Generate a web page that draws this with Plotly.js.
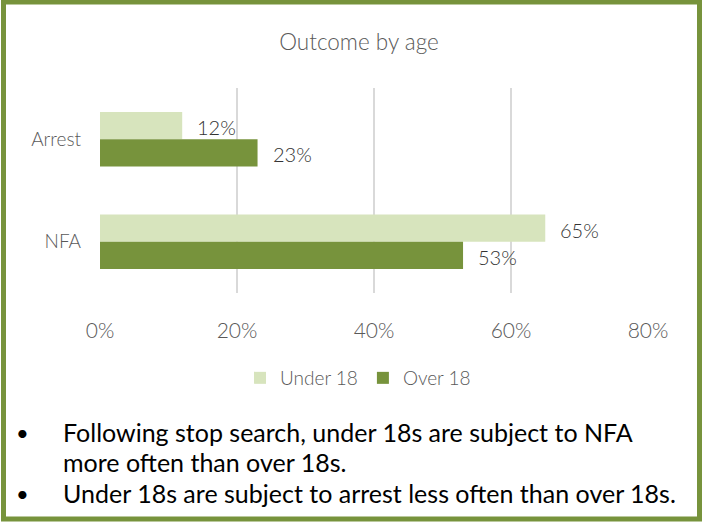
<!DOCTYPE html>
<html>
<head>
<meta charset="utf-8">
<script src="https://cdn.plot.ly/plotly-3.0.1.min.js"></script>
<style>
html,body{margin:0;padding:0;background:#fff;}
#chart{width:702px;height:526px;}
</style>
</head>
<body>
<div id="chart"></div>
<script>
// ---- data ----
const categories = ['Arrest', 'NFA'];
const seriesNames = ['Under 18', 'Over 18'];
const under18 = [0.12, 0.65];
const over18 = [0.23, 0.53];
const xTickVals = [0, 0.2, 0.4, 0.6, 0.8];
const xTickText = ['0%', '20%', '40%', '60%', '80%'];
const chartTitle = 'Outcome by age';
const bulletLines = [
  ['Following stop search, under 18s are subject to NFA', 'more often than over 18s.'],
  ['Under 18s are subject to arrest less often than over 18s.']
];

// ---- layout geometry (pixels) ----
const W = 702, H = 526;
const L = 100, R = 648, T = 88, B = 293;
const px2x = p => (p - L) / (R - L);
const px2y = p => (B - p) / (B - T);

const FONT = 'Lato, "Open Sans", sans-serif';
const GREY = '#595959';
const colors = ['#D7E4BD', '#77933C'];
const values = [under18, over18];

const traces = seriesNames.map((name, i) => ({
  type: 'bar',
  orientation: 'h',
  name: name,
  y: categories,
  x: values[i],
  marker: {color: colors[i]},
  hoverinfo: 'x+name'
}));

const annotations = [];
// value labels
const yShifts = [12, -15];
values.forEach((vals, i) => {
  vals.forEach((v, j) => {
    annotations.push({
      x: v, y: categories[j], xref: 'x', yref: 'y',
      text: Math.round(v * 100) + '%',
      showarrow: false, xanchor: 'left', yanchor: 'middle',
      xshift: 13, yshift: yShifts[i],
      font: {family: FONT, size: 20, color: '#333333', weight: 300}
    });
  });
});
// bullet text
const lineY = [432, 462, 493];
let li = 0;
bulletLines.forEach(lines => {
  lines.forEach((ln, k) => {
    if (k === 0) {
      annotations.push({
        x: px2x(22), y: px2y(lineY[li]), xref: 'paper', yref: 'paper',
        text: '•', showarrow: false, xanchor: 'center', yanchor: 'middle',
        font: {family: FONT, size: 22, color: '#000'}
      });
    }
    annotations.push({
      x: px2x(61), y: px2y(lineY[li]), xref: 'paper', yref: 'paper',
      text: ln, showarrow: false, xanchor: 'left', yanchor: 'middle',
      font: {family: FONT, size: 25, color: '#000'}
    });
    li++;
  });
});

const layout = {
  width: W, height: H,
  margin: {l: L, r: W - R, t: T, b: H - B, pad: 0},
  paper_bgcolor: '#fff', plot_bgcolor: '#fff',
  font: {family: FONT, color: GREY},
  title: {
    text: chartTitle,
    x: px2x(359), xref: 'paper', xanchor: 'center',
    y: 1 - 42 / H, yref: 'container', yanchor: 'middle',
    font: {family: FONT, size: 22.5, color: GREY, weight: 300}
  },
  barmode: 'group',
  bargap: 0.47,
  bargroupgap: 0,
  xaxis: {
    range: [0, 0.8],
    tickvals: xTickVals, ticktext: xTickText,
    showgrid: true, gridcolor: '#D9D9D9', gridwidth: 1.5,
    zeroline: false, showline: false,
    ticks: '', ticklabelstandoff: 23,
    tickfont: {family: FONT, size: 21, color: GREY, weight: 300},
    fixedrange: true
  },
  yaxis: {
    type: 'category',
    autorange: 'reversed',
    showgrid: false, zeroline: false, showline: false,
    ticks: '', ticklabelstandoff: 18,
    tickfont: {family: FONT, size: 19, color: GREY, weight: 300},
    fixedrange: true
  },
  showlegend: true,
  legend: {
    orientation: 'h',
    x: px2x(358), xanchor: 'center',
    y: px2y(378), yanchor: 'middle',
    font: {family: FONT, size: 19, color: GREY, weight: 300},
    bgcolor: 'rgba(0,0,0,0)',
    itemclick: false, itemdoubleclick: false
  },
  annotations: annotations,
  shapes: [{
    type: 'rect', xref: 'paper', yref: 'paper',
    x0: px2x(3.5), x1: px2x(699.5), y0: px2y(2), y1: px2y(519),
    line: {color: '#77933C', width: 5},
    fillcolor: 'rgba(0,0,0,0)', layer: 'above'
  }]
};

Plotly.newPlot('chart', traces, layout, {displayModeBar: false, staticPlot: true});
</script>
</body>
</html>
